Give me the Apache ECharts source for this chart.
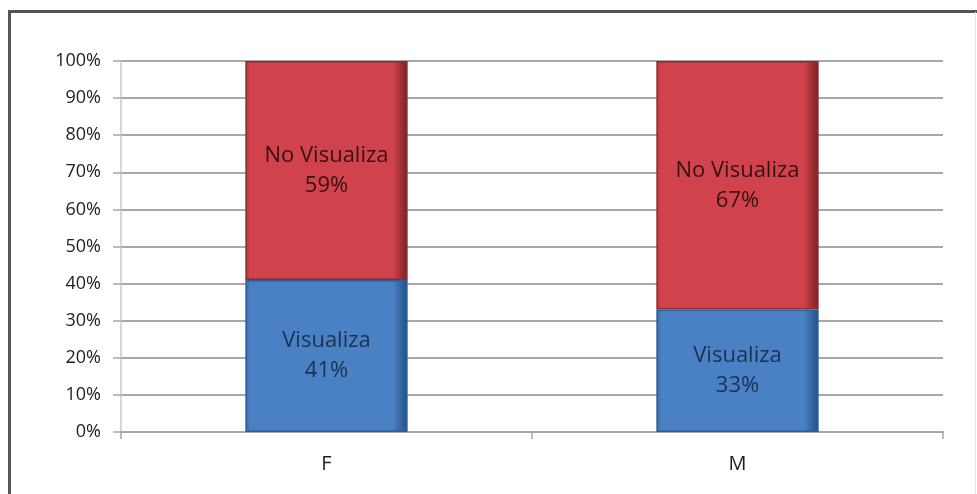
<!DOCTYPE html>
<html>
<head>
<meta charset="utf-8">
<script src="https://cdn.jsdelivr.net/npm/echarts@6/dist/echarts.min.js"></script>
<style>
html,body{margin:0;padding:0;background:#fff;}
#chart{width:977px;height:494px;}
</style>
</head>
<body>
<div id="chart"></div>
<script>
const categories = ['F', 'M'];
const visualiza = [41, 33];
const noVisualiza = [59, 67];
const yTicks = [0, 10, 20, 30, 40, 50, 60, 70, 80, 90, 100];

const chart = echarts.init(document.getElementById('chart'), null, {renderer: 'canvas'});

function grad(edge, mid, dark) {
  return new echarts.graphic.LinearGradient(0, 0, 1, 0, [
    {offset: 0, color: edge},
    {offset: 0.03, color: mid},
    {offset: 0.91, color: mid},
    {offset: 1, color: dark}
  ]);
}

const labelFont = {fontFamily: 'Open Sans', fontSize: 22, lineHeight: 30};

chart.setOption({
  animation: false,
  backgroundColor: '#ffffff',
  graphic: [
    {type: 'line', shape: {x1: 9, y1: 11.5, x2: 977, y2: 11.5}, style: {stroke: '#555', lineWidth: 3}},
    {type: 'line', shape: {x1: 9.5, y1: 10, x2: 9.5, y2: 494}, style: {stroke: '#555', lineWidth: 3}},
    {type: 'line', shape: {x1: 975.5, y1: 12, x2: 975.5, y2: 494}, style: {stroke: '#e4e4e4', lineWidth: 1}}
  ],
  grid: {left: 121, right: 34, top: 61, bottom: 62, containLabel: false},
  xAxis: {
    type: 'category',
    data: categories,
    axisLine: {show: true, lineStyle: {color: '#a8a8a8', width: 2}},
    axisTick: {show: true, length: 7, lineStyle: {color: '#a8a8a8', width: 1.5}},
    axisLabel: {color: '#222', fontFamily: 'Open Sans', fontSize: 20, margin: 22}
  },
  yAxis: {
    type: 'value',
    min: 0,
    max: 100,
    interval: 10,
    axisLine: {show: true, lineStyle: {color: '#c8c8c8', width: 1.5}},
    axisTick: {show: true, length: 8, lineStyle: {color: '#a8a8a8', width: 1.5}},
    splitLine: {show: true, lineStyle: {color: '#a8a8a8', width: 2}},
    axisLabel: {
      color: '#222', fontFamily: 'Open Sans', fontSize: 18, margin: 20,
      formatter: v => yTicks.includes(v) ? v + '%' : ''
    }
  },
  series: [
    {
      name: 'Visualiza',
      type: 'bar',
      stack: 'total',
      barWidth: '39.5%',
      data: visualiza,
      itemStyle: {color: grad('#3a6aa6', '#4a80c4', '#1f4f86'), borderColor: '#2f5e95', borderWidth: 1.5},
      label: Object.assign({show: true, position: 'inside', color: '#1a3252',
        formatter: p => p.seriesName + '\n' + p.value + '%'}, labelFont)
    },
    {
      name: 'No Visualiza',
      type: 'bar',
      stack: 'total',
      barWidth: '39.5%',
      data: noVisualiza,
      itemStyle: {color: grad('#b3363e', '#d1434c', '#7a1f24'), borderColor: '#8f2a30', borderWidth: 1.5},
      label: Object.assign({show: true, position: 'inside', color: '#361012',
        formatter: p => p.seriesName + '\n' + p.value + '%'}, labelFont)
    }
  ]
});
</script>
</body>
</html>
